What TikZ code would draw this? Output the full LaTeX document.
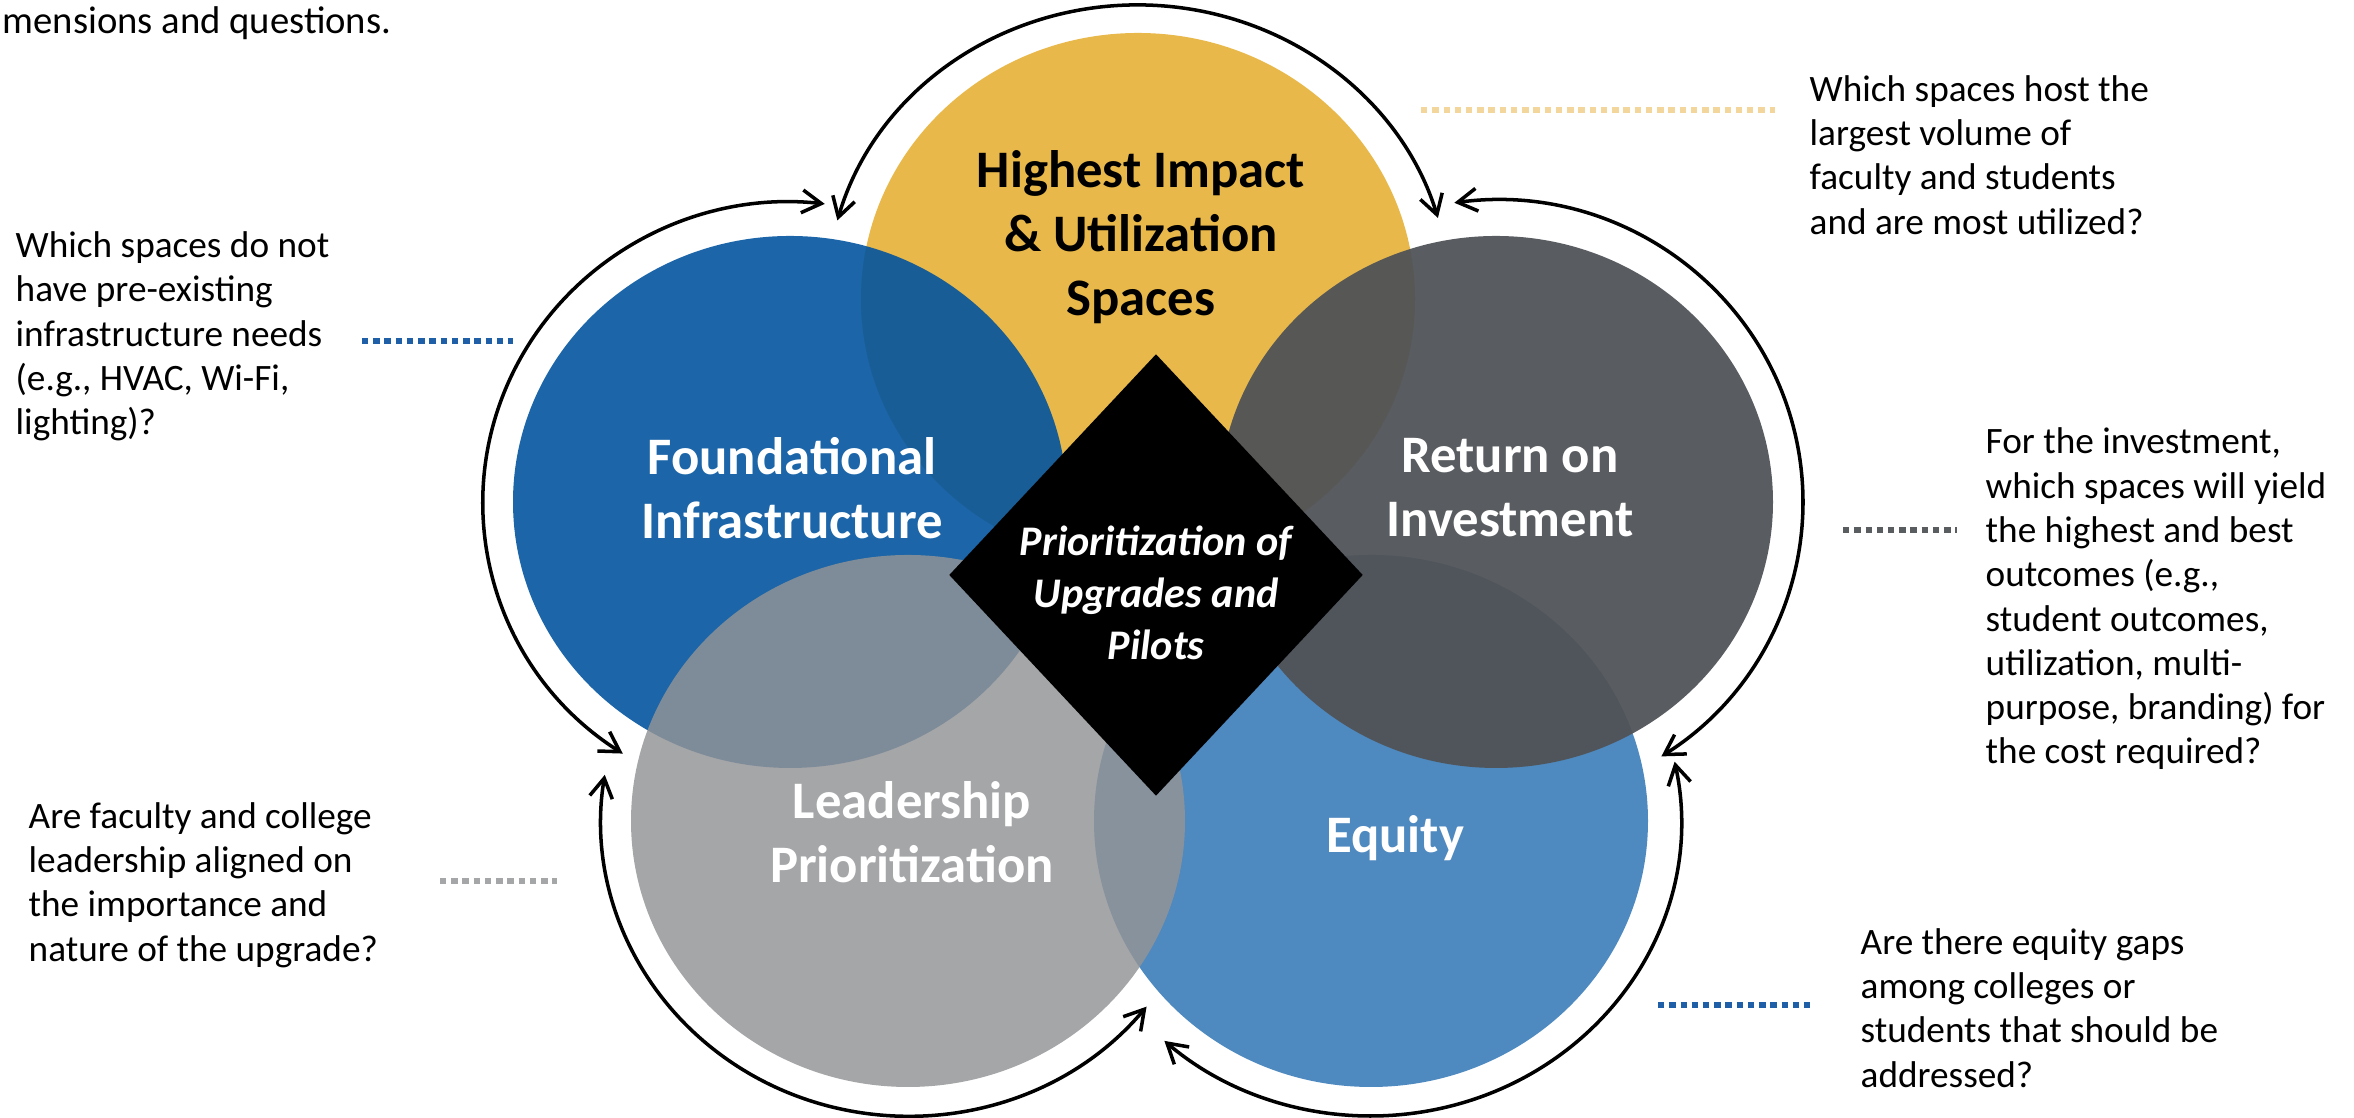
\documentclass[tikz,border=0pt]{standalone}
\usepackage{fontspec}
\setmainfont{Carlito}
\usepackage{tikz}
\usetikzlibrary{shapes.geometric,arrows.meta}

\definecolor{impactyellow}{HTML}{E8B84B}
\definecolor{foundblue}{RGB}{2,84,158}
\definecolor{roigray}{RGB}{80,83,87}
\definecolor{equityblue}{RGB}{59,124,184}
\definecolor{leadgray}{RGB}{147,148,150}
\definecolor{dotblue}{HTML}{1F5FA8}
\definecolor{dottan}{HTML}{F2D69B}
\definecolor{dotgray}{HTML}{5A5D60}
\definecolor{dotlight}{HTML}{A5A6A8}

\begin{document}
\begin{tikzpicture}[
	petal/.style={shape=ellipse,minimum width=5.54cm,minimum height=5.32cm,inner sep=0pt},
	petaltitle/.style={align=center,inner sep=0pt,text=white,font=\fontsize{15}{18.2}\selectfont\bfseries},
	question/.style={anchor=west,align=left,inner sep=0pt,font=\fontsize{10.6}{12.6}\selectfont},
	dotline/.style={line width=1.6pt,dash pattern=on 1.8pt off 1.4pt},
	cyclearrow/.style={line width=1pt,{Straight Barb[length=5.5pt,width=6.5pt]}-{Straight Barb[length=5.5pt,width=6.5pt]}}
	]
	
	\useasboundingbox (0,0) rectangle (23.54,11.18);
	
	\node[petal,fill=impactyellow] (impact) at (11.38, 8.19) {};
	\node[petal,fill=foundblue,fill opacity=0.9] (found) at (7.90, 6.16) {};
	\node[petal,fill=equityblue,fill opacity=0.9] (equity) at (13.71, 2.97) {};
	\node[petal,fill=roigray,fill opacity=0.95] (roi) at (14.96, 6.16) {};
	\node[petal,fill=leadgray,fill opacity=0.83] (lead) at (9.08, 2.97) {};
	\node[shape=diamond,fill=black,minimum width=4.14cm,minimum height=4.42cm,inner sep=0pt] (core) at (11.56, 5.43) {};
	
	\node[petaltitle,text=black] (impacttext) at (11.41, 8.81) {Highest Impact\\\& Utilization\\Spaces};
	\node[petaltitle] (foundtext) at (7.92, 6.30) {Foundational\\Infrastructure};
	\node[petaltitle] (roitext) at (15.10, 6.30) {Return on\\Investment};
	\node[petaltitle] (leadtext) at (9.12, 2.86) {Leadership\\Prioritization};
	\node[petaltitle] (equitytext) at (13.95, 2.80) {Equity};
	\node[align=center,inner sep=0pt,text=white,font=\fontsize{12}{14.9}\selectfont\bfseries\itshape] (coretext) at (11.56, 5.25) {Prioritization of\\Upgrades and\\Pilots};
	
	\foreach \p/\s/\e/\rx/\ry in {impact/164.5/16/3.12/2.94, roi/97.8/-57.4/3.07/3.02, equity/11.6/-131.8/3.10/2.95, lead/-39/-189/3.07/2.95, found/237/83.5/3.07/3.00}
		\draw[cyclearrow] (\p) ++(\s:\rx cm and \ry cm) arc[start angle=\s,end angle=\e,x radius=\rx cm,y radius=\ry cm];
	
	\node[anchor=base west,inner sep=0pt,font=\fontsize{11}{13}\selectfont] (header) at (0.02, 10.84) {mensions and questions.};
	\node[question] (foundq) at (0.15, 7.815) {Which spaces do not\\have pre-existing\\infrastructure needs\\(e.g., HVAC, Wi-Fi,\\lighting)?};
	\node[question] (impactq) at (18.09, 9.63) {Which spaces host the\\largest volume of\\faculty and students\\and are most utilized?};
	\node[question] (roiq) at (19.85, 5.19) {For the investment,\\which spaces will yield\\the highest and best\\outcomes (e.g.,\\student outcomes,\\utilization, multi-\\purpose, branding) for\\the cost required?};
	\node[question] (leadq) at (0.28, 2.33) {Are faculty and college\\leadership aligned on\\the importance and\\nature of the upgrade?};
	\node[question] (equityq) at (18.60, 1.10) {Are there equity gaps\\among colleges or\\students that should be\\addressed?};
	
	\coordinate (founda) at (3.62, 7.77);
	\coordinate (foundb) at (5.13, 7.77);
	\coordinate (impacta) at (14.21, 10.08);
	\coordinate (impactb) at (17.75, 10.08);
	\coordinate (roia) at (18.43, 5.88);
	\coordinate (roib) at (19.57, 5.88);
	\coordinate (leada) at (4.40, 2.37);
	\coordinate (leadb) at (5.57, 2.37);
	\coordinate (equitya) at (16.58, 1.13);
	\coordinate (equityb) at (18.10, 1.13);
	\draw[dotline,dotblue] (founda) -- (foundb);
	\draw[dotline,dottan] (impacta) -- (impactb);
	\draw[dotline,dotgray] (roia) -- (roib);
	\draw[dotline,dotlight] (leada) -- (leadb);
	\draw[dotline,dotblue] (equitya) -- (equityb);
	
\end{tikzpicture}
\end{document}
